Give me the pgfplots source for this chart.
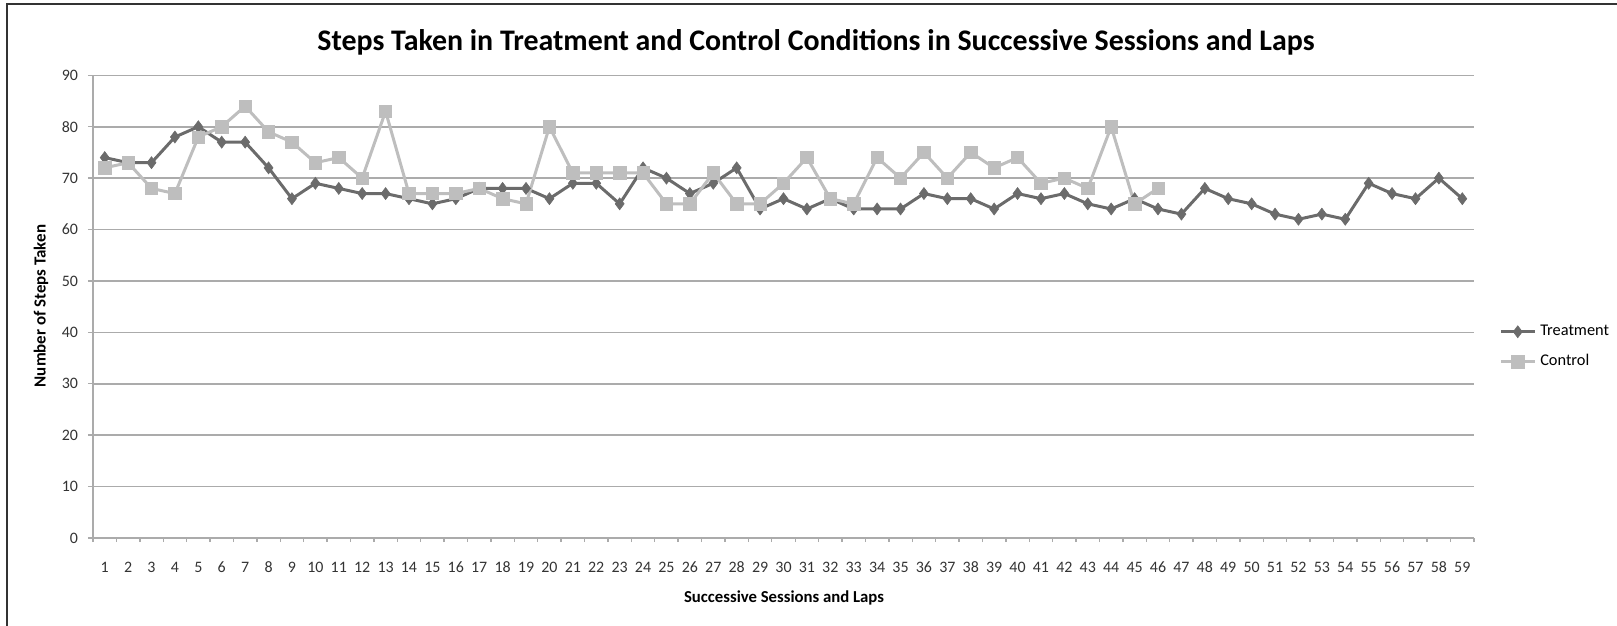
\documentclass[border=0pt]{standalone}
\usepackage{fontspec}
\setmainfont{Carlito}
\usepackage{pgfplots}
\pgfplotsset{compat=1.18}
\definecolor{treat}{HTML}{6B6B6B}
\definecolor{ctrl}{HTML}{BEBEBE}
\definecolor{gridc}{HTML}{ABABAB}

\begin{document}
\begin{tikzpicture}
% 1 px of the reference = 0.5bp
\useasboundingbox (0,0) rectangle (808.5bp,-313bp);
\draw[line width=1bp,black!80] (3.5bp,-313bp) -- (3.5bp,-2bp) -- (808.5bp,-2bp);
\begin{axis}[
  at={(46.5bp,-269bp)},anchor=south west,
  scale only axis,width=690.5bp,height=231.35bp,
  xmin=0.5,xmax=59.5,ymin=0,ymax=90,
  axis x line*=bottom,axis y line*=left,
  axis line style={-,gridc,line width=0.8bp},
  xtick={1,...,59},ytick={0,10,...,90},
  minor xtick={0.5,1.5,...,59.5},
  major x tick style={draw=none},
  minor tick length=2bp,major tick length=2.5bp,
  tick align=outside,
  tick style={gridc,line width=0.7bp},
  ymajorgrids,grid style={gridc,line width=0.8bp},
  /pgf/number format/assume math mode=true,
  tick label style={font=\fontsize{8}{9.5}\selectfont,text=black!80},
  xticklabel style={yshift=-6bp},
  yticklabel style={xshift=-1.5bp},
  title={\fontsize{15}{18}\selectfont\bfseries Steps Taken in Treatment and Control Conditions in Successive Sessions and Laps},
  title style={at={(axis description cs:0.5235,1.046)},anchor=center},
  xlabel={\fontsize{8.4}{10}\selectfont\bfseries Successive Sessions and Laps},
  xlabel style={at={(axis description cs:0.5004,-0.1297)},anchor=center},
  ylabel={\fontsize{8.5}{10}\selectfont\bfseries Number of Steps Taken},
  ylabel style={at={(axis description cs:-0.0377,0.5014)},anchor=center},
  legend style={at={(1.018,0.413)},anchor=west,draw=none,fill=none,
    font=\fontsize{8.2}{9.5}\selectfont,inner sep=0pt,row sep=4bp},
  legend cell align=left,
]
\addplot[treat,line width=1.5bp,mark=diamond*,mark size=3bp,mark options={fill=treat,draw=treat,line width=0.3bp}] coordinates {
(1,74) (2,73) (3,73) (4,78) (5,80) (6,77) (7,77) (8,72) (9,66) (10,69)
(11,68) (12,67) (13,67) (14,66) (15,65) (16,66) (17,68) (18,68) (19,68) (20,66)
(21,69) (22,69) (23,65) (24,72) (25,70) (26,67) (27,69) (28,72) (29,64) (30,66)
(31,64) (32,66) (33,64) (34,64) (35,64) (36,67) (37,66) (38,66) (39,64) (40,67)
(41,66) (42,67) (43,65) (44,64) (45,66) (46,64) (47,63) (48,68) (49,66) (50,65)
(51,63) (52,62) (53,63) (54,62) (55,69) (56,67) (57,66) (58,70) (59,66)};
\addlegendentry{Treatment}
\addplot[ctrl,line width=1.5bp,mark=square*,mark size=3.1bp,mark options={fill=ctrl,draw=ctrl,line width=0.3bp}] coordinates {
(1,72) (2,73) (3,68) (4,67) (5,78) (6,80) (7,84) (8,79) (9,77) (10,73)
(11,74) (12,70) (13,83) (14,67) (15,67) (16,67) (17,68) (18,66) (19,65) (20,80)
(21,71) (22,71) (23,71) (24,71) (25,65) (26,65) (27,71) (28,65) (29,65) (30,69)
(31,74) (32,66) (33,65) (34,74) (35,70) (36,75) (37,70) (38,75) (39,72) (40,74)
(41,69) (42,70) (43,68) (44,80) (45,65) (46,68)};
\addlegendentry{Control}
\end{axis}
\end{tikzpicture}
\end{document}
